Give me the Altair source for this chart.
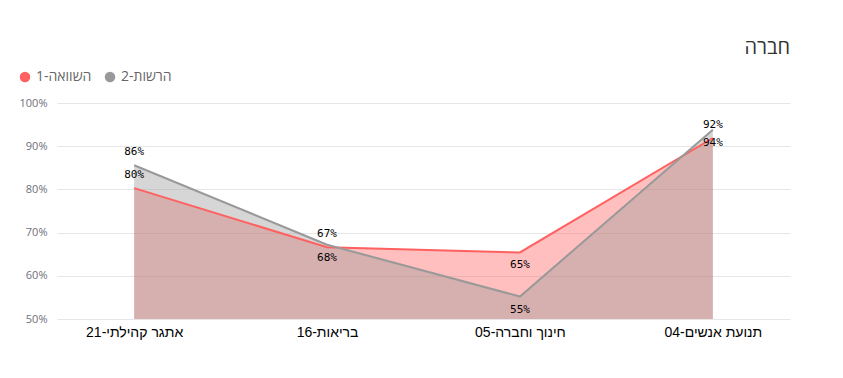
import altair as alt
import pandas as pd

categories = ["אתגר קהילתי-21", "בריאות-16", "חינוך וחברה-05", "תנועת אנשים-04"]
series_names = ["השוואה-1", "הרשות-2"]
series_colors = ["#ff6060", "#999999"]
compare_values = [80.3, 66.6, 65.4, 91.9]
authority_values = [85.6, 67.2, 55.2, 93.8]
compare_labels = ["80%", "67%", "65%", "92%"]
authority_labels = ["86%", "68%", "55%", "94%"]
compare_label_side = ["above", "above", "below", "above"]
authority_label_side = ["above", "below", "below", "below"]
y_ticks = [50, 60, 70, 80, 90, 100]
chart_title = "חברה"

rows = []
for name, vals, labs, sides in [
    (series_names[0], compare_values, compare_labels, compare_label_side),
    (series_names[1], authority_values, authority_labels, authority_label_side),
]:
    for c, v, l, s in zip(categories, vals, labs, sides):
        rows.append({"category": c, "series": name, "value": v, "label": l, "side": s})
df = pd.DataFrame(rows)

x_enc = alt.X(
    "category:N",
    sort=categories,
    scale=alt.Scale(type="point", padding=0.4),
    axis=alt.Axis(title=None, labelAngle=0, labelFontSize=14, labelColor="#000000",
                  labelFont="Liberation Sans", domain=False, ticks=False,
                  labelPadding=6, grid=False),
)
y_enc = alt.Y(
    "value:Q",
    scale=alt.Scale(domain=[50, 100], nice=False, zero=False),
    axis=alt.Axis(values=y_ticks, labelExpr="datum.value + '%'", title=None,
                  domain=False, ticks=False, gridColor="#e6e6e6",
                  labelColor="#6e7079", labelFontSize=11, labelFont="Open Sans",
                  labelPadding=10),
)
color_enc = alt.Color(
    "series:N",
    scale=alt.Scale(domain=series_names, range=series_colors),
    legend=alt.Legend(title=None, orient="none", legendX=-39, legendY=-33,
                      direction="horizontal", symbolType="circle", symbolSize=110,
                      symbolOpacity=1, labelFontSize=14, labelColor="#666666",
                      labelFont="Open Sans", columnPadding=11, symbolStrokeWidth=0),
)

base = alt.Chart(df)

area_red = base.transform_filter(alt.datum.series == series_names[0]).mark_area(
    opacity=0.4).encode(x=x_enc, y=y_enc, y2=alt.Y2(datum=50), color=color_enc)
area_gray = base.transform_filter(alt.datum.series == series_names[1]).mark_area(
    opacity=0.4).encode(x=x_enc, y=y_enc, y2=alt.Y2(datum=50), color=color_enc)
lines = base.mark_line(strokeWidth=2).encode(x=x_enc, y=y_enc, color=color_enc,
                                             detail="series:N")
text_above = base.transform_filter(alt.datum.side == "above").mark_text(
    dy=-13, fontSize=11, font="DejaVu Sans Mono", color="#000000").encode(
    x=x_enc, y=y_enc, text="label:N")
text_below = base.transform_filter(alt.datum.side == "below").mark_text(
    dy=13, fontSize=11, font="DejaVu Sans Mono", color="#000000").encode(
    x=x_enc, y=y_enc, text="label:N")

chart = alt.layer(area_red, area_gray, lines, text_above, text_below).properties(
    width=733, height=216,
    autosize=alt.AutoSizeParams(type="none"),
    padding={"left": 49, "top": 95, "right": 45, "bottom": 45},
    title=alt.Title(chart_title, anchor="end", fontSize=20, fontWeight="normal",
                    color="#333333", font="Open Sans", offset=12),
).configure_view(stroke=None)

chart.save("out.html", embed_options={"renderer": "svg", "actions": False})
